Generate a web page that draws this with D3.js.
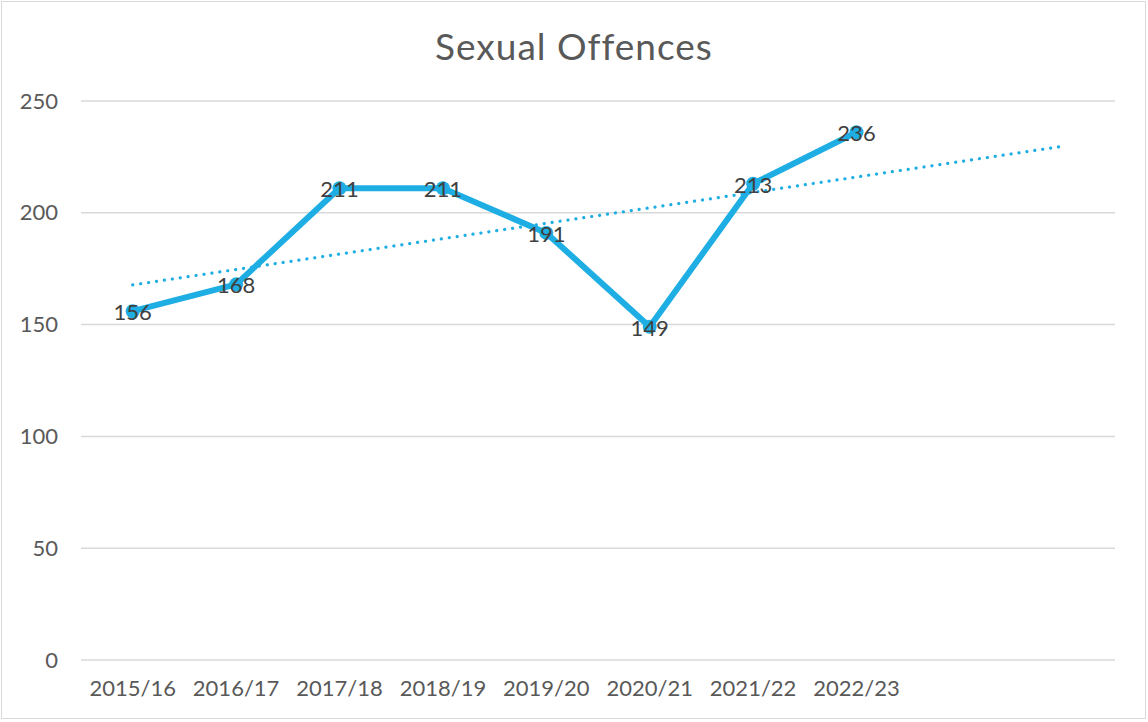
<!DOCTYPE html>
<html>
<head>
<meta charset="utf-8">
<script src="https://cdn.jsdelivr.net/npm/d3@7"></script>
<style>
  body { margin: 0; background: #fff; }
  text { font-family: "Lato", "DejaVu Sans", sans-serif; }
</style>
</head>
<body>
<div id="chart"></div>
<script>
var years = ["2015/16", "2016/17", "2017/18", "2018/19", "2019/20", "2020/21", "2021/22", "2022/23"];
var offences = [156, 168, 211, 211, 191, 149, 213, 236];
var yTicks = [0, 50, 100, 150, 200, 250];
// the axis keeps two empty slots, the trend is carried forward into them
var forecastSlots = ["f1", "f2"];

var width = 1148, height = 722;
var margin = {top: 101, right: 33, bottom: 62, left: 81};
var plotW = width - margin.left - margin.right,
    plotH = height - margin.top - margin.bottom;

var svg = d3.select("#chart").append("svg")
    .attr("width", width)
    .attr("height", height);

svg.append("rect")
    .attr("x", 1.5).attr("y", 1.5)
    .attr("width", width - 4).attr("height", height - 5)
    .attr("fill", "#fff")
    .attr("stroke", "#d9d9d9");

svg.append("text")
    .attr("x", 574).attr("y", 60)
    .attr("text-anchor", "middle")
    .attr("fill", "#595959")
    .attr("font-size", "37px")
    .attr("letter-spacing", "1px")
    .text("Sexual Offences");

var g = svg.append("g")
    .attr("transform", "translate(" + margin.left + "," + margin.top + ")");

var x = d3.scaleBand()
    .domain(years.concat(forecastSlots))
    .range([0, plotW]);

var y = d3.scaleLinear()
    .domain([0, 250])
    .range([plotH, 0]);

// gridlines
g.append("g")
  .selectAll("line")
  .data(yTicks)
  .enter().append("line")
    .attr("x1", 0).attr("x2", plotW)
    .attr("y1", function(d) { return y(d); })
    .attr("y2", function(d) { return y(d); })
    .attr("stroke", "#d9d9d9")
    .attr("stroke-width", 1.5);

var yAxis = g.append("g")
    .call(d3.axisLeft(y).tickValues(yTicks).tickSize(0).tickPadding(23));
yAxis.select(".domain").remove();
yAxis.selectAll("text")
    .attr("fill", "#595959")
    .attr("font-size", "22px")
    .attr("font-family", "Lato, sans-serif");

var xAxis = g.append("g")
    .attr("transform", "translate(0," + plotH + ")")
    .call(d3.axisBottom(x).tickValues(years).tickSize(0).tickPadding(20));
xAxis.select(".domain").remove();
xAxis.selectAll("text")
    .attr("fill", "#595959")
    .attr("font-size", "22px")
    .attr("font-family", "Lato, sans-serif");

function cx(d, i) { return x(years[i]) + x.bandwidth() / 2; }

// linear trend, least squares over the observed years
var n = offences.length;
var xs = d3.range(1, n + 1);
var mx = d3.mean(xs), my = d3.mean(offences);
var slope = d3.sum(xs, function(v, i) { return (v - mx) * (offences[i] - my); }) /
            d3.sum(xs, function(v) { return (v - mx) * (v - mx); });
var all = years.concat(forecastSlots);
var trend = [all[0], all[all.length - 1]].map(function(k, j) {
  var idx = j === 0 ? 1 : all.length;
  return {x: x(k) + x.bandwidth() / 2, v: my + slope * (idx - mx)};
});

g.append("line")
    .attr("x1", trend[0].x).attr("y1", y(trend[0].v))
    .attr("x2", trend[1].x).attr("y2", y(trend[1].v))
    .attr("stroke", "#1eaee4")
    .attr("stroke-width", 3.2)
    .attr("stroke-linecap", "round")
    .attr("stroke-dasharray", "0.1 7.9");

var line = d3.line()
    .x(cx)
    .y(function(d) { return y(d); });

g.append("path")
    .datum(offences)
    .attr("fill", "none")
    .attr("stroke", "#1eaee4")
    .attr("stroke-width", 6)
    .attr("stroke-linejoin", "round")
    .attr("d", line);

g.selectAll(".dot")
  .data(offences)
  .enter().append("circle")
    .attr("class", "dot")
    .attr("cx", cx)
    .attr("cy", function(d) { return y(d); })
    .attr("r", 7)
    .attr("fill", "#1eaee4");

g.selectAll(".lbl")
  .data(offences)
  .enter().append("text")
    .attr("class", "lbl")
    .attr("x", cx)
    .attr("y", function(d) { return y(d); })
    .attr("dy", "0.4em")
    .attr("text-anchor", "middle")
    .attr("fill", "#404040")
    .attr("font-size", "22px")
    .text(function(d) { return d; });
</script>
</body>
</html>
